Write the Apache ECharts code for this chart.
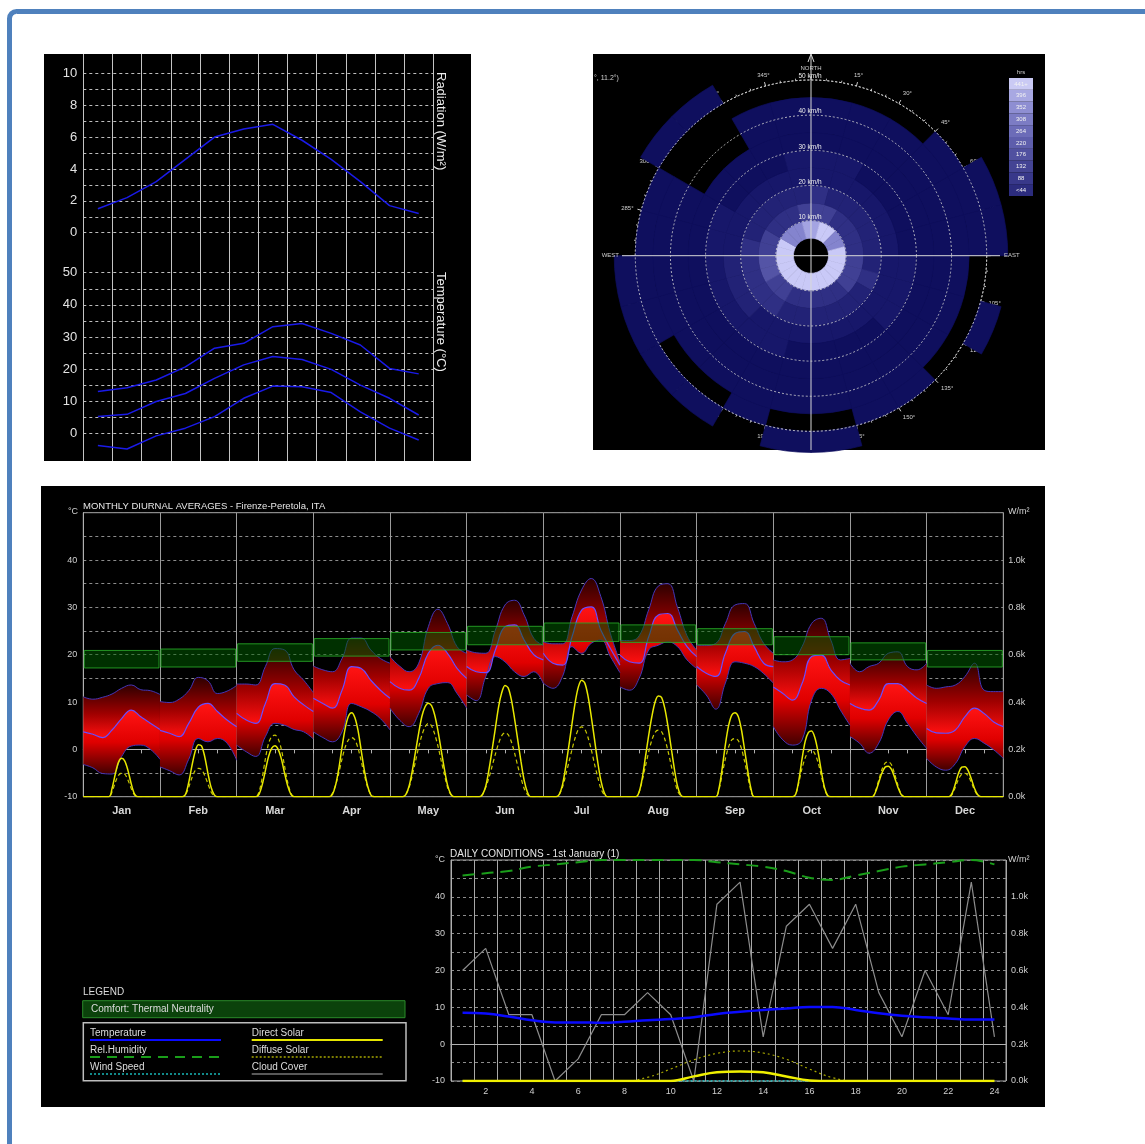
<!DOCTYPE html>
<html><head><meta charset="utf-8">
<script src="https://cdn.jsdelivr.net/npm/echarts@6/dist/echarts.min.js"></script>
<style>html,body{margin:0;padding:0;background:#fff}#c{width:1145px;height:1144px}</style>
</head><body><div id="c"></div>
<script>
// ---------- DATA ----------
const months = ['Jan','Feb','Mar','Apr','May','Jun','Jul','Aug','Sep','Oct','Nov','Dec'];
// top-left monthly summary
const radiation = [1.5, 2.2, 3.2, 4.6, 6.0, 6.5, 6.8, 5.8, 4.6, 3.2, 1.7, 1.2];
const tempMaxMonthly = [13.0, 14.2, 16.6, 20.7, 26.5, 28.0, 33.2, 34.2, 31.1, 27.5, 20.2, 18.5];
const tempMeanMonthly = [5.2, 5.9, 9.9, 12.4, 17.1, 21.3, 23.9, 23.0, 19.9, 15.0, 10.9, 5.7];
const tempMinMonthly = [-3.8, -4.9, -0.8, 1.6, 5.2, 10.9, 14.7, 14.5, 12.7, 6.7, 1.6, -2.1];

// monthly diurnal averages (values at these hours of each month's day)
const diurnalHours = [0, 3, 6, 9, 12, 15, 18, 21, 24];
const diurnalMax = [
  [11.1, 10.6, 11.0, 11.7, 12.9, 13.6, 12.6, 12.4, 11.6],
  [10.1, 9.9, 10.6, 12.4, 15.2, 14.5, 11.8, 12.3, 13.5],
  [13.8, 13.8, 13.6, 17.5, 21.3, 21.0, 16.8, 14.6, 12.0],
  [17.6, 16.8, 16.4, 19.2, 23.5, 23.5, 21.0, 19.2, 18.2],
  [19.6, 17.6, 16.4, 18.2, 25.9, 29.6, 26.6, 21.7, 20.3],
  [21.0, 20.4, 20.3, 25.2, 30.5, 31.5, 28.4, 23.5, 22.0],
  [22.7, 22.3, 22.3, 28.0, 33.7, 36.1, 32.3, 24.5, 18.5],
  [23.0, 23.0, 24.0, 29.5, 34.5, 35.0, 30.0, 24.0, 21.0],
  [22.0, 22.0, 22.4, 26.6, 30.5, 30.8, 26.6, 22.4, 20.3],
  [18.9, 18.5, 18.9, 21.7, 26.6, 27.7, 23.1, 18.9, 19.2],
  [18.2, 16.4, 17.5, 18.2, 20.3, 20.6, 17.5, 16.8, 18.2],
  [13.6, 12.9, 13.2, 13.6, 15.4, 18.2, 12.5, 12.2, 12.2]
];
const diurnalAvg = [
  [3.7, 3.2, 2.5, 4.1, 6.5, 8.3, 6.9, 5.5, 4.2],
  [4.0, 3.4, 2.7, 5.5, 8.9, 9.7, 8.0, 6.2, 4.8],
  [7.6, 6.2, 5.5, 9.7, 13.9, 13.6, 11.1, 9.4, 8.0],
  [10.8, 9.7, 8.7, 12.5, 17.5, 17.1, 14.6, 12.5, 10.8],
  [14.3, 12.9, 12.5, 15.0, 20.3, 22.0, 20.3, 17.1, 15.0],
  [17.5, 16.4, 16.2, 21.0, 25.9, 26.3, 23.1, 20.0, 18.9],
  [20.3, 18.2, 17.8, 23.8, 29.4, 30.1, 25.2, 21.3, 17.8],
  [19.9, 18.5, 18.2, 23.8, 28.4, 28.7, 25.2, 21.7, 19.6],
  [17.5, 16.1, 15.4, 20.3, 24.5, 24.9, 21.7, 18.2, 17.5],
  [13.2, 11.8, 10.4, 13.9, 19.6, 19.9, 16.8, 14.6, 13.6],
  [9.7, 8.7, 8.3, 10.4, 13.9, 13.9, 12.5, 10.8, 9.7],
  [4.4, 3.5, 3.4, 4.1, 6.9, 8.7, 7.6, 5.8, 4.8]
];
const diurnalMin = [
  [-3.2, -3.9, -5.1, -5.2, -1.5, 0.7, 0.9, 0.0, -2.1],
  [-3.7, -4.5, -5.4, -2.1, 2.3, 1.6, 2.3, 1.3, -2.3],
  [0.9, -0.5, -1.5, 2.7, 5.5, 5.1, 4.2, 3.7, 2.2],
  [3.7, 2.5, 1.6, 3.7, 9.7, 9.0, 8.0, 6.5, 4.1],
  [8.7, 6.2, 4.8, 7.6, 12.9, 13.9, 14.1, 11.8, 8.7],
  [11.5, 10.3, 15.4, 19.6, 18.5, 16.4, 15.4, 16.4, 13.9],
  [14.0, 12.9, 15.4, 21.7, 20.3, 22.4, 23.1, 19.6, 16.2],
  [13.2, 12.5, 15.0, 21.0, 22.0, 22.7, 21.7, 18.9, 17.1],
  [13.6, 11.5, 8.5, 14.0, 18.5, 18.2, 17.5, 16.0, 14.0],
  [4.8, 2.0, 0.9, 2.0, 10.4, 12.9, 11.8, 8.3, 5.1],
  [2.7, 1.3, -0.8, 1.3, 6.2, 8.0, 5.5, 2.7, 0.2],
  [-1.9, -3.7, -4.4, -3.0, 0.6, 2.3, 1.3, -0.1, -1.9]
];
const comfortLow  = [17.2, 17.4, 18.6, 19.7, 21.0, 22.1, 22.8, 22.6, 22.1, 20.0, 18.9, 17.4];
const comfortHigh = [20.9, 21.2, 22.3, 23.4, 24.7, 26.0, 26.7, 26.3, 25.5, 23.8, 22.5, 20.9];
// solar (W/m2), hourly values beginning at solarStart hour of each month
const solarStart = [8, 7, 6, 5, 4, 4, 4, 5, 6, 6, 7, 7];
const directSolar = [
  [0, 35, 95, 145, 162, 150, 110, 55, 12, 0],
  [0, 10, 60, 130, 190, 220, 215, 170, 100, 40, 8, 0],
  [0, 10, 50, 110, 170, 205, 215, 200, 160, 100, 45, 10, 0],
  [0, 10, 50, 120, 210, 290, 340, 355, 335, 280, 195, 110, 45, 8, 0],
  [0, 10, 45, 110, 190, 270, 340, 380, 395, 385, 345, 280, 200, 120, 50, 12, 0],
  [0, 10, 45, 115, 200, 290, 380, 440, 470, 460, 410, 330, 240, 150, 70, 20, 0],
  [0, 10, 50, 125, 215, 310, 400, 465, 492, 480, 425, 340, 245, 150, 70, 20, 0],
  [0, 20, 80, 170, 260, 340, 400, 425, 420, 375, 300, 210, 120, 45, 8, 0],
  [0, 35, 120, 220, 300, 345, 355, 340, 285, 200, 110, 35, 0],
  [0, 10, 70, 160, 235, 272, 278, 250, 190, 110, 40, 5, 0],
  [0, 20, 60, 100, 125, 129, 115, 80, 40, 10, 0],
  [0, 15, 55, 100, 125, 127, 110, 75, 35, 8, 0]
];
const diffuseSolar = [
  [0, 20, 60, 90, 100, 95, 70, 35, 8, 0],
  [0, 8, 40, 80, 110, 120, 115, 90, 55, 20, 3, 0],
  [0, 20, 80, 160, 225, 255, 260, 245, 200, 130, 60, 15, 0],
  [0, 15, 50, 100, 160, 210, 240, 250, 240, 205, 150, 90, 40, 10, 0],
  [0, 10, 40, 90, 150, 210, 260, 295, 310, 300, 265, 215, 155, 95, 40, 10, 0],
  [0, 10, 40, 80, 130, 180, 225, 258, 270, 262, 232, 185, 130, 80, 35, 10, 0],
  [0, 10, 40, 90, 145, 200, 250, 285, 295, 285, 250, 200, 140, 85, 35, 10, 0],
  [0, 20, 70, 130, 190, 240, 272, 281, 275, 245, 195, 135, 75, 25, 5, 0],
  [0, 30, 95, 160, 210, 240, 246, 238, 205, 150, 85, 25, 0],
  [0, 10, 60, 120, 165, 192, 197, 182, 145, 90, 35, 5, 0],
  [0, 25, 70, 115, 142, 148, 135, 95, 50, 12, 0],
  [0, 10, 40, 75, 95, 99, 88, 60, 28, 5, 0]
];

// daily conditions, 1st January
const dailyHours = ['1','2','3','4','5','6','7','8','9','10','11','12','13','14','15','16','17','18','19','20','21','22','23','24'];
const dailyTemp = [8.5, 8.3, 7.5, 6.5, 5.9, 5.9, 5.8, 6.1, 6.5, 6.8, 7.3, 8.2, 8.8, 9.3, 9.7, 10.1, 10.1, 9.3, 8.4, 7.7, 7.3, 7.0, 6.7, 6.7];
const dailyHumidity = [93, 94, 95, 97, 98, 99, 100, 100, 100, 100, 100, 99, 98, 97, 95, 92, 91, 93, 95, 97, 98, 99, 100, 98];
const dailyWind = [0, 0, 0, 0, 0, 0, 0, 0, 0, 0, 0, 0, 0, 0, 0, 0, 0, 0, 0, 0, 0, 0, 0, 0];
const dailyCloud = [50, 60, 30, 30, 0, 10, 30, 30, 40, 30, 0, 80, 90, 20, 70, 80, 60, 80, 40, 20, 50, 30, 90, 20];
const dailyDirect = [0, 0, 0, 0, 0, 0, 0, 0, 0, 0, 25, 48, 52, 47, 25, 3, 0, 0, 0, 0, 0, 0, 0, 0];
const dailyDiffuse = [0, 0, 0, 0, 0, 0, 0, 0, 20, 65, 115, 150, 163, 152, 118, 65, 18, 0, 0, 0, 0, 0, 0, 0];

// wind rose: hours per 15-degree direction for each speed band (km/h)
const windDirs = ['0','15','30','45','60','75','90','105','120','135','150','165','180','195','210','225','240','255','270','285','300','315','330','345'];
const speedEdges = [5, 10, 15, 20, 25, 30, 35, 40, 45, 50, 56];
const wind05 = [380, 410, 400, 350, 330, 420, 450, 460, 450, 440, 430, 410, 400, 420, 430, 440, 450, 460, 460, 420, 330, 320, 350, 370];
const wind10 = [200, 180, 170, 160, 150, 170, 190, 200, 180, 170, 160, 150, 160, 175, 195, 215, 230, 225, 205, 180, 150, 140, 165, 190];
const wind15 = [140, 125, 115, 110, 100, 115, 130, 140, 125, 115, 105, 100, 110, 120, 135, 150, 165, 155, 140, 120, 100, 95, 115, 130];
const wind20 = [80, 70, 65, 60, 55, 65, 75, 80, 70, 65, 58, 55, 60, 68, 78, 88, 95, 90, 80, 70, 55, 50, 65, 75];
const wind25 = [50, 45, 42, 40, 38, 42, 48, 52, 46, 42, 38, 36, 40, 44, 50, 55, 58, 55, 50, 44, 36, 32, 42, 48];
const wind30 = [30, 28, 25, 22, 22, 25, 28, 30, 28, 25, 22, 22, 25, 28, 30, 33, 35, 33, 30, 26, 22, 18, 25, 28];
const wind35 = [20, 18, 15, 14, 14, 16, 15, 18, 16, 14, 12, 12, 15, 16, 18, 20, 22, 20, 18, 14, 0, 0, 15, 18];
const wind40 = [10, 9, 8, 7, 8, 9, 4, 6, 8, 8, 7, 7, 8, 9, 10, 11, 12, 12, 10, 8, 0, 0, 8, 9];
const wind45 = [0, 0, 0, 4, 6, 6, 0, 0, 0, 4, 4, 0, 0, 4, 0, 0, 6, 6, 6, 5, 0, 0, 0, 0];
const wind50 = [0, 0, 0, 0, 4, 4, 0, 3, 0, 0, 0, 3, 3, 0, 3, 3, 4, 4, 0, 0, 3, 3, 0, 0];
const hoursLegend = ['<44', '88', '132', '176', '220', '264', '308', '352', '396', '441+'];
const hoursThresholds = [44, 88, 132, 176, 220, 264, 308, 352, 396, 441];

// ---------- STYLE ----------
const FONT = 'Liberation Sans, Arial, sans-serif';
const rosePalette = ['#0f0f5e','#17176a','#222276','#2f2f84','#404094','#5454a6','#6a6aba','#8484ce','#a4a4e2','#c9c9f7'];
const legendPalette = ['#2c2c7e','#38388a','#444494','#5151a0','#5e5eac','#6c6cb8','#7c7cc4','#8e8ed2','#a8a8e2','#cacaf4'];
function hoursColor(h){
  if (!h) return 'rgba(0,0,0,0)';
  let i = 0;
  while (i < hoursThresholds.length && h >= hoursThresholds[i]) i++;
  return rosePalette[Math.min(9, i)];
}
const CX = 811, CY = 255.7, R50 = 175.7;

// ---------- SERIES ----------
const series = [];
// top-left
series.push({type:'line', xAxisIndex:1, yAxisIndex:1, data:radiation, symbol:'none', lineStyle:{color:'#1a1ae8', width:1.5}, clip:false});
[tempMaxMonthly, tempMeanMonthly, tempMinMonthly].forEach(arr => {
  series.push({type:'line', xAxisIndex:2, yAxisIndex:2, data:arr, symbol:'none', lineStyle:{color:'#1a1ae8', width:1.5}, clip:false});
});

// wind rose
series.push({type:'bar', coordinateSystem:'polar', polarIndex:0, stack:'rose', barCategoryGap:'0%', silent:true,
  data: windDirs.map(() => speedEdges[0]), itemStyle:{color:'rgba(0,0,0,0)'}});
[wind05, wind10, wind15, wind20, wind25, wind30, wind35, wind40, wind45, wind50].forEach((arr, k) => {
  series.push({type:'bar', coordinateSystem:'polar', polarIndex:0, stack:'rose', barCategoryGap:'0%', silent:true,
    data: arr.map(h => {
      const c = hoursColor(h);
      return {value: speedEdges[k+1] - speedEdges[k], itemStyle:{color:c, borderColor:c, borderWidth: h ? 0.7 : 0}};
    })});
});

// monthly diurnal envelopes: data rows are [temperature, hourOfYear]
const edgeColor = '#4436b8', avgColor = '#6a4cff';
months.forEach((mn, m) => {
  const base = m * 24;
  const common = {type:'line', xAxisIndex:3, yAxisIndex:3, stack:'env' + m, stackStrategy:'all', smooth:0.45,
    symbol:'none', silent:true, encode:{x:1, y:0}, z:3};
  series.push(Object.assign({}, common, {data: diurnalHours.map((h,i) => [diurnalMin[m][i], base + h]),
    lineStyle:{color:edgeColor, width:1}}));
  series.push(Object.assign({}, common, {data: diurnalHours.map((h,i) => [diurnalAvg[m][i] - diurnalMin[m][i], base + h]),
    lineStyle:{color:avgColor, width:1.2},
    areaStyle:{opacity:1, color:new echarts.graphic.LinearGradient(0,0,0,1,[{offset:0,color:'#ff1414'},{offset:0.5,color:'#e00000'},{offset:1,color:'#420000'}])}}));
  series.push(Object.assign({}, common, {data: diurnalHours.map((h,i) => [diurnalMax[m][i] - diurnalAvg[m][i], base + h]),
    lineStyle:{color:edgeColor, width:1},
    areaStyle:{opacity:1, color:new echarts.graphic.LinearGradient(0,0,0,1,[{offset:0,color:'#2e0000'},{offset:0.55,color:'#a00000'},{offset:1,color:'#ff1010'}])}}));
});
// comfort bands
series.push({type:'custom', xAxisIndex:3, yAxisIndex:3, z:4, silent:true,
  data: months.map((mn, m) => [m, comfortLow[m], comfortHigh[m]]),
  renderItem: (params, api) => {
    const m = api.value(0);
    const p0 = api.coord([m*24 + 0.3, api.value(2)]);
    const p1 = api.coord([m*24 + 23.7, api.value(1)]);
    return {type:'rect', shape:{x:p0[0], y:p0[1], width:p1[0]-p0[0], height:p1[1]-p0[1]},
      style:{fill:'rgba(0,95,0,0.5)', stroke:'rgba(40,170,40,0.85)', lineWidth:1}};
  }});
// solar
function solarData(arrs){
  const out = [];
  arrs.forEach((arr, m) => {
    out.push([m*24, 0]);
    arr.forEach((v, i) => out.push([m*24 + solarStart[m] + i, v]));
    out.push([m*24 + 24, 0]);
  });
  return out;
}
series.push({type:'line', xAxisIndex:3, yAxisIndex:4, z:6, smooth:0.3, symbol:'none', silent:true, data: solarData(diffuseSolar),
  lineStyle:{color:'#c8c800', width:1.2, type:[4,3]}});
series.push({type:'line', xAxisIndex:3, yAxisIndex:4, z:6, smooth:0.3, symbol:'none', silent:true, data: solarData(directSolar),
  lineStyle:{color:'#e8e800', width:1.5}});

// daily conditions
series.push({type:'line', xAxisIndex:5, yAxisIndex:7, z:5, symbol:'none', data:dailyCloud, lineStyle:{color:'#8c8c8c', width:1.2}});
series.push({type:'line', xAxisIndex:5, yAxisIndex:7, z:5, symbol:'none', smooth:0.4, data:dailyHumidity, lineStyle:{color:'#1a9e1a', width:2, type:[12,7]}});
series.push({type:'line', xAxisIndex:5, yAxisIndex:6, z:5, symbol:'none', smooth:0.4, data:dailyDiffuse, lineStyle:{color:'#a8a800', width:1.2, type:[2,3]}});
series.push({type:'line', xAxisIndex:5, yAxisIndex:8, z:5, symbol:'none', data:dailyWind, lineStyle:{color:'#19c8c8', width:1.5, type:[2,2]}});
series.push({type:'line', xAxisIndex:5, yAxisIndex:6, z:6, symbol:'none', smooth:0.4, data:dailyDirect, lineStyle:{color:'#f0f000', width:2.5}});
series.push({type:'line', xAxisIndex:5, yAxisIndex:5, z:6, symbol:'none', smooth:0.4, data:dailyTemp, lineStyle:{color:'#0a0aff', width:2.5}});

// ---------- GRAPHICS ----------
const G = [];
const txt = (x, y, text, size, opts) => Object.assign({type:'text', x, y, z:100, silent:true,
  style:Object.assign({text, fill:'#dedede', fontSize:size, fontFamily:FONT, align:'left', verticalAlign:'middle'}, (opts && opts.style) || {})},
  opts ? {rotation: opts.rotation || 0} : {});
G.push({type:'rect', z:-20, silent:true, shape:{x:9.5, y:11.5, width:1300, height:1300, r:7}, style:{fill:'#ffffff', stroke:'#4f81bd', lineWidth:5}});
G.push({type:'rect', z:-10, silent:true, shape:{x:44, y:54, width:427, height:407}, style:{fill:'#000'}});
G.push({type:'rect', z:-10, silent:true, shape:{x:593, y:54, width:452, height:396}, style:{fill:'#000'}});
G.push({type:'rect', z:-10, silent:true, shape:{x:41, y:486, width:1004, height:621}, style:{fill:'#000'}});
// top-left axis titles
G.push(txt(441, 72, 'Radiation (W/m²)', 13, {rotation:-Math.PI/2, style:{fill:'#eeeeee'}}));
G.push(txt(441, 272, 'Temperature (°C)', 13, {rotation:-Math.PI/2, style:{fill:'#eeeeee'}}));
// wind rose decorations
G.push({type:'line', z:60, silent:true, shape:{x1:622, y1:CY, x2:1000, y2:CY}, style:{stroke:'#d8d8d8', lineWidth:1}});
G.push({type:'line', z:60, silent:true, shape:{x1:CX, y1:56, x2:CX, y2:450}, style:{stroke:'#d8d8d8', lineWidth:1}});
G.push({type:'polyline', z:60, silent:true, shape:{points:[[CX-3, 62],[CX, 54],[CX+3, 62]]}, style:{stroke:'#d8d8d8', fill:'none', lineWidth:1}});
G.push(txt(CX, 68, 'NORTH', 6, {style:{align:'center', fill:'#d0d0d0'}}));
G.push(txt(1004, CY, 'EAST', 6, {style:{align:'left', fill:'#d0d0d0'}}));
G.push(txt(619, CY, 'WEST', 6, {style:{align:'right', fill:'#d0d0d0'}}));
G.push(txt(594, 78, '°, 11.2°)', 7, {style:{fill:'#cfcfcf'}}));
G.push(txt(1021, 72, 'hrs', 6, {style:{align:'center', fill:'#d0d0d0'}}));
hoursLegend.forEach((lab, i) => {
  const y = 78 + (9 - i) * 11.8;
  G.push({type:'rect', z:60, silent:true, shape:{x:1009, y, width:24, height:11.8}, style:{fill:legendPalette[i]}});
  G.push(txt(1021, y + 5.9, lab, 6, {style:{align:'center', fill:'#f2f2f2'}}));
});
// monthly chart labels
G.push(txt(83, 506, 'MONTHLY DIURNAL AVERAGES - Firenze-Peretola, ITA', 9.5, {style:{fill:'#e6e6e6'}}));
G.push(txt(68, 512, '°C', 9, {style:{fill:'#d0d0d0'}}));
G.push(txt(1008, 512, 'W/m²', 9, {style:{fill:'#d0d0d0'}}));
// daily chart labels
G.push(txt(450, 854, 'DAILY CONDITIONS - 1st January (1)', 10, {style:{fill:'#e6e6e6'}}));
G.push(txt(435, 860, '°C', 9, {style:{fill:'#d0d0d0'}}));
G.push(txt(1008, 860, 'W/m²', 9, {style:{fill:'#d0d0d0'}}));
// legend
G.push(txt(83, 992.5, 'LEGEND', 10, {style:{fill:'#dcdcdc'}}));
G.push({type:'rect', z:60, silent:true, shape:{x:82.7, y:1000.7, width:322.3, height:17}, style:{fill:'#0b420b', stroke:'#2a8a2a', lineWidth:1}});
G.push(txt(91, 1009.5, 'Comfort: Thermal Neutrality', 10, {style:{fill:'#dcdcdc'}}));
G.push({type:'rect', z:60, silent:true, shape:{x:83.3, y:1022.7, width:322.7, height:58}, style:{fill:'none', stroke:'#bdbdbd', lineWidth:1.5}});
const legendItems = [
  ['Temperature', 90, 1033, '#0a0aff', 2, null],
  ['Rel.Humidity', 90, 1050, '#1a9e1a', 2, [10,7]],
  ['Wind Speed', 90, 1067, '#19b8b8', 1.5, [2,2]],
  ['Direct Solar', 251.7, 1033, '#e6e600', 2, null],
  ['Diffuse Solar', 251.7, 1050, '#a8a800', 1.5, [2,2]],
  ['Cloud Cover', 251.7, 1067, '#777777', 1.5, null]
];
legendItems.forEach(([lab, x, y, col, w, dash]) => {
  G.push(txt(x, y, lab, 10, {style:{fill:'#dcdcdc'}}));
  G.push({type:'line', z:60, silent:true, shape:{x1:x, y1:y + 7, x2:x + 131, y2:y + 7}, style:{stroke:col, lineWidth:w, lineDash:dash}});
});

// ---------- OPTION ----------
const labelGray = '#d0d0d0';
const option = {
  backgroundColor:'#ffffff',
  animation:false,
  textStyle:{fontFamily:FONT},
  grid:[
    {left:83.3, top:54, width:350, height:407, outerBoundsMode:'none'},
    {left:83.3, top:73.3, width:350, height:159.4, outerBoundsMode:'none'},
    {left:83.3, top:272.7, width:350, height:160.6, outerBoundsMode:'none'},
    {left:83.3, top:512.7, width:920, height:284, show:true, borderColor:'#a8a8a8', borderWidth:1, backgroundColor:'transparent', outerBoundsMode:'none'},
    {left:451, top:860, width:555, height:221, show:true, borderColor:'#a8a8a8', borderWidth:1, backgroundColor:'transparent', outerBoundsMode:'none'}
  ],
  polar:[
    {center:[CX, CY], radius:[0, R50 * 60 / 50]},
    {center:[CX, CY], radius:[0, R50]}
  ],
  xAxis:[
    {gridIndex:0, type:'category', data:months, boundaryGap:true, axisLine:{show:false}, axisTick:{show:false}, axisLabel:{show:false},
      splitLine:{show:true, interval:0, lineStyle:{color:'#c4c4c4', width:1}}},
    {gridIndex:1, type:'category', data:months, boundaryGap:true, show:false},
    {gridIndex:2, type:'category', data:months, boundaryGap:true, show:false},
    {gridIndex:3, type:'value', min:0, max:288, interval:24, axisLine:{show:true, lineStyle:{color:'#b0b0b0'}},
      axisTick:{show:true, length:4, lineStyle:{color:'#b0b0b0'}}, minorTick:{show:true, splitNumber:4, length:4, lineStyle:{color:'#b0b0b0'}},
      axisLabel:{show:false}, splitLine:{show:true, lineStyle:{color:'#9c9c9c', width:1}}, minorSplitLine:{show:false}},
    {gridIndex:3, type:'category', data:months, position:'bottom', boundaryGap:true, axisLine:{show:false}, axisTick:{show:false},
      splitLine:{show:false}, axisLabel:{color:'#d8d8d8', fontSize:11, fontWeight:'bold', margin:9}},
    {gridIndex:4, type:'category', data:dailyHours, boundaryGap:true, axisLine:{show:true, lineStyle:{color:'#b0b0b0'}}, axisTick:{show:false},
      axisLabel:{color:labelGray, fontSize:9, margin:6, interval:(i) => i % 2 === 1},
      splitLine:{show:true, interval:0, lineStyle:{color:'#a8a8a8', width:1}}}
  ],
  yAxis:[
    {gridIndex:0, type:'value', show:false},
    {gridIndex:1, type:'value', min:0, max:10, interval:1, axisLine:{show:false}, axisTick:{show:false},
      axisLabel:{color:'#e2e2e2', fontSize:13, margin:6, formatter:v => v % 2 === 0 ? String(v) : ''},
      splitLine:{lineStyle:{color:'#bdbdbd', type:[3,3]}}},
    {gridIndex:2, type:'value', min:0, max:50, interval:5, axisLine:{show:false}, axisTick:{show:false},
      axisLabel:{color:'#e2e2e2', fontSize:13, margin:6, formatter:v => v % 10 === 0 ? String(v) : ''},
      splitLine:{lineStyle:{color:'#bdbdbd', type:[3,3]}}},
    {gridIndex:3, type:'value', position:'left', min:-10, max:50, interval:5, axisLine:{show:true, lineStyle:{color:'#b0b0b0'}}, axisTick:{show:false},
      axisLabel:{color:labelGray, fontSize:9, margin:6, formatter:v => (v % 10 === 0 && v < 50) ? String(v) : ''},
      splitLine:{lineStyle:{color:'#8c8c8c', type:[3,3]}}},
    {gridIndex:3, type:'value', position:'right', min:0, max:1200, interval:200, axisLine:{show:false}, axisTick:{show:false},
      axisLabel:{color:labelGray, fontSize:9, margin:5, formatter:v => v < 1200 ? (v/1000).toFixed(1) + 'k' : ''}, splitLine:{show:false}},
    {gridIndex:4, type:'value', position:'left', min:-10, max:50, interval:5, axisLine:{show:true, lineStyle:{color:'#b0b0b0'}}, axisTick:{show:false},
      axisLabel:{color:labelGray, fontSize:9, margin:6, formatter:v => (v % 10 === 0 && v < 50) ? String(v) : ''},
      splitLine:{lineStyle:{color:'#8c8c8c', type:[3,3]}}},
    {gridIndex:4, type:'value', position:'right', min:0, max:1200, interval:200, axisLine:{show:false}, axisTick:{show:false},
      axisLabel:{color:labelGray, fontSize:9, margin:5, formatter:v => v < 1200 ? (v/1000).toFixed(1) + 'k' : ''}, splitLine:{show:false}},
    {gridIndex:4, type:'value', min:0, max:100, show:false},
    {gridIndex:4, type:'value', min:0, max:50, show:false}
  ],
  angleAxis:[
    {polarIndex:0, type:'category', data:windDirs, startAngle:90, clockwise:true, boundaryGap:true,
      axisLine:{show:false}, axisTick:{show:false}, axisLabel:{show:false}, splitLine:{show:false}},
    {polarIndex:1, type:'value', min:0, max:360, interval:15, startAngle:90, clockwise:true, z:0,
      axisLine:{show:true, lineStyle:{color:'#d0d0d0', type:[2,2], width:1}},
      axisTick:{show:true, length:4, lineStyle:{color:'#d0d0d0'}},
      minorTick:{show:true, splitNumber:3, length:2, lineStyle:{color:'#bbbbbb'}},
      axisLabel:{color:'#cfcfcf', fontSize:6, margin:8, formatter:v => v % 90 === 0 ? '' : v + '°'},
      splitLine:{show:false}}
  ],
  radiusAxis:[
    {polarIndex:0, type:'value', min:0, max:60, axisLine:{show:false}, axisTick:{show:false}, axisLabel:{show:false}, splitLine:{show:false}},
    {polarIndex:1, type:'value', min:0, max:50, interval:10, z:10, axisLine:{show:false}, axisTick:{show:false},
      axisLabel:{color:'#eeeeee', fontSize:6.5, margin:1, align:'center', verticalAlign:'bottom', formatter:v => v ? v + ' km/h' : ''},
      splitLine:{show:true, lineStyle:{color:'#d8d8d8', type:[2,2], width:0.8}}}
  ],
  graphic:G,
  series
};
const chart = echarts.init(document.getElementById('c'), null, {renderer:'canvas', width:1145, height:1144});
chart.setOption(option);
</script>
</body></html>
